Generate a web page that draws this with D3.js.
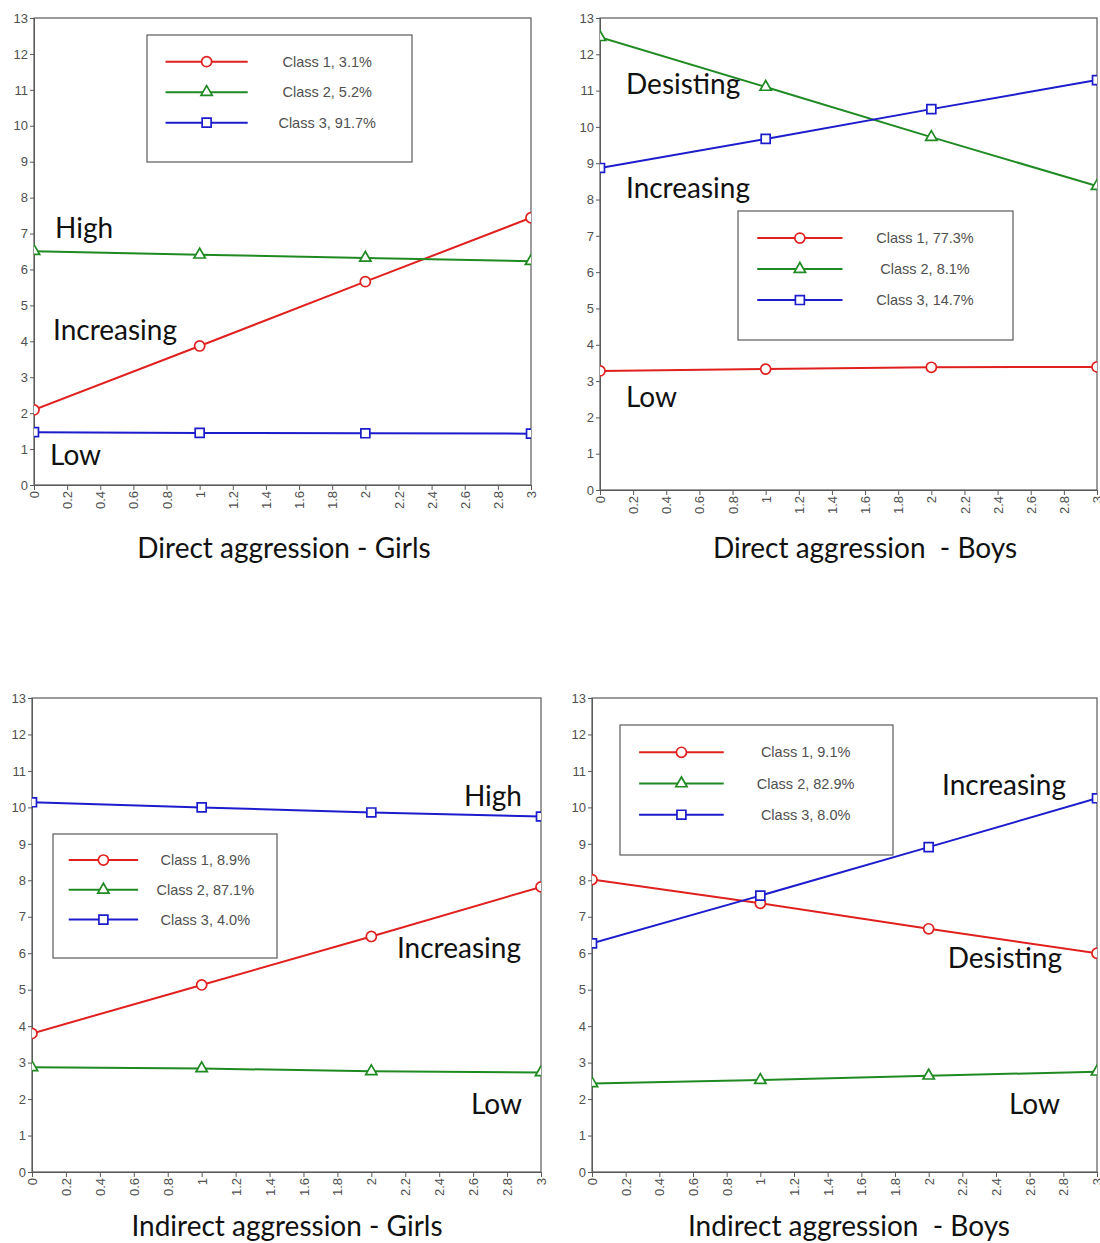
<!DOCTYPE html>
<html>
<head>
<meta charset="utf-8">
<script src="https://cdn.jsdelivr.net/npm/d3@7"></script>
<style>
  body { margin: 0; background: #fff; }
  svg { display: block; }
  .title { white-space: pre; }
</style>
</head>
<body>
<svg id="chart" width="1100" height="1243"></svg>
<script>
// Waves on the x axis
const waves = [0, 1, 2, 3];
const xTicks = d3.range(16).map(i => i / 5);
const yTicks = d3.range(14);

// Direct aggression - Girls
const dgClass1 = [2.09, 3.87, 5.66, 7.44];
const dgClass2 = [6.51, 6.41, 6.32, 6.23];
const dgClass3 = [1.47, 1.45, 1.44, 1.43];
const dgLegend = ["Class 1, 3.1%", "Class 2, 5.2%", "Class 3, 91.7%"];

// Direct aggression - Boys
const dbClass1 = [3.28, 3.33, 3.38, 3.39];
const dbClass2 = [12.47, 11.1, 9.72, 8.37];
const dbClass3 = [8.87, 9.67, 10.49, 11.29];
const dbLegend = ["Class 1, 77.3%", "Class 2, 8.1%", "Class 3, 14.7%"];

// Indirect aggression - Girls
const igClass1 = [3.8, 5.13, 6.46, 7.82];
const igClass2 = [2.87, 2.84, 2.76, 2.73];
const igClass3 = [10.14, 10.0, 9.86, 9.75];
const igLegend = ["Class 1, 8.9%", "Class 2, 87.1%", "Class 3, 4.0%"];

// Indirect aggression - Boys
const ibClass1 = [8.02, 7.37, 6.67, 6.0];
const ibClass2 = [2.43, 2.52, 2.64, 2.75];
const ibClass3 = [6.27, 7.58, 8.91, 10.25];
const ibLegend = ["Class 1, 9.1%", "Class 2, 82.9%", "Class 3, 8.0%"];

const classColors = ["#e0201e", "#1f8a22", "#1c1ccc"];
const classSymbols = [d3.symbolCircle, d3.symbolTriangle, d3.symbolSquare];

// layout of the four panels (pixels) and where the labels go (data units)
const panels = [
  {
    series: [dgClass1, dgClass2, dgClass3], legend: dgLegend,
    title: "Direct aggression - Girls", titleX: 284, titleY: 558,
    box: {left: 34, right: 531, top: 18, bottom: 485},
    legendBox: {x: 147, y: 35, w: 265, h: 127},
    notes: [
      {text: "High", x: 0.127, y: 6.88, anchor: "start"},
      {text: "Increasing", x: 0.115, y: 4.04, anchor: "start"},
      {text: "Low", x: 0.097, y: 0.56, anchor: "start"}
    ]
  },
  {
    series: [dbClass1, dbClass2, dbClass3], legend: dbLegend,
    title: "Direct aggression  - Boys", titleX: 865, titleY: 558,
    box: {left: 600, right: 1097, top: 18, bottom: 490},
    legendBox: {x: 738, y: 211, w: 275, h: 129},
    notes: [
      {text: "Desisting", x: 0.157, y: 10.91, anchor: "start"},
      {text: "Increasing", x: 0.157, y: 8.04, anchor: "start"},
      {text: "Low", x: 0.157, y: 2.29, anchor: "start"}
    ]
  },
  {
    series: [igClass1, igClass2, igClass3], legend: igLegend,
    title: "Indirect aggression - Girls", titleX: 287, titleY: 1236,
    box: {left: 32, right: 541, top: 698, bottom: 1172},
    legendBox: {x: 53, y: 834, w: 224, h: 124},
    notes: [
      {text: "High", x: 2.888, y: 10.04, anchor: "end"},
      {text: "Increasing", x: 2.882, y: 5.87, anchor: "end"},
      {text: "Low", x: 2.888, y: 1.59, anchor: "end"}
    ]
  },
  {
    series: [ibClass1, ibClass2, ibClass3], legend: ibLegend,
    title: "Indirect aggression  - Boys", titleX: 849, titleY: 1236,
    box: {left: 592, right: 1097, top: 698, bottom: 1172},
    legendBox: {x: 620, y: 725, w: 273, h: 130},
    notes: [
      {text: "Increasing", x: 2.816, y: 10.34, anchor: "end"},
      {text: "Desisting", x: 2.792, y: 5.6, anchor: "end"},
      {text: "Low", x: 2.78, y: 1.59, anchor: "end"}
    ]
  }
];

const svg = d3.select("#chart");
const tickFont = "'Liberation Sans', Arial, sans-serif";
const bigFont = "Lato, 'Open Sans', sans-serif";
const axisGray = "#5a5a5a";

function markerPath(i, size) {
  return d3.symbol().type(classSymbols[i]).size(size)();
}

panels.forEach((p, pi) => {
  const b = p.box;
  const x = d3.scaleLinear().domain([0, 3]).range([b.left, b.right]);
  const y = d3.scaleLinear().domain([0, 13]).range([b.bottom, b.top]);
  const g = svg.append("g");

  // frame
  g.append("rect")
    .attr("x", b.left).attr("y", b.top)
    .attr("width", b.right - b.left).attr("height", b.bottom - b.top)
    .attr("fill", "none").attr("stroke", axisGray).attr("stroke-width", 1.2);

  const yAxis = g.append("g")
    .attr("transform", `translate(${b.left},0)`)
    .call(d3.axisLeft(y).tickValues(yTicks).tickSize(4).tickPadding(2).tickFormat(d3.format("d")));
  yAxis.select(".domain").attr("stroke", axisGray);
  yAxis.selectAll(".tick line").attr("stroke", axisGray);
  yAxis.selectAll("text").attr("font-family", tickFont).attr("font-size", 13).attr("fill", "#505050");

  const xAxis = g.append("g")
    .attr("transform", `translate(0,${b.bottom})`)
    .call(d3.axisBottom(x).tickValues(xTicks).tickSize(5).tickFormat(d => String(d)));
  xAxis.select(".domain").attr("stroke", axisGray);
  xAxis.selectAll(".tick line").attr("stroke", axisGray);
  xAxis.selectAll("text")
    .attr("font-family", tickFont).attr("font-size", 13).attr("fill", "#505050")
    .attr("text-anchor", "end")
    .attr("transform", "rotate(-90)")
    .attr("x", -6).attr("y", 0).attr("dy", "0.35em");

  // clip marks to the plot area
  const clipId = "clip" + pi;
  svg.append("clipPath").attr("id", clipId)
    .append("rect")
    .attr("x", b.left).attr("y", b.top)
    .attr("width", b.right - b.left).attr("height", b.bottom - b.top);

  const plot = g.append("g").attr("clip-path", `url(#${clipId})`);
  const line = d3.line().x((d, i) => x(waves[i])).y(d => y(d));

  p.series.forEach((vals, ci) => {
    plot.append("path")
      .datum(vals)
      .attr("d", line)
      .attr("fill", "none")
      .attr("stroke", classColors[ci])
      .attr("stroke-width", 2);
    plot.selectAll(".m" + ci)
      .data(vals)
      .join("path")
      .attr("class", "m" + ci)
      .attr("transform", (d, i) => `translate(${x(waves[i])},${y(d)})`)
      .attr("d", markerPath(ci, ci === 1 ? 55 : 80))
      .attr("fill", "#fff")
      .attr("stroke", classColors[ci])
      .attr("stroke-width", 1.7);
  });

  // legend
  const L = p.legendBox;
  const lg = g.append("g");
  lg.append("rect")
    .attr("x", L.x).attr("y", L.y).attr("width", L.w).attr("height", L.h)
    .attr("fill", "#fff").attr("stroke", axisGray).attr("stroke-width", 1.2);
  const rowY = [0.21, 0.45, 0.69];
  p.legend.forEach((label, ci) => {
    const ry = L.y + rowY[ci] * L.h;
    const x0 = L.x + 0.07 * L.w, x1 = L.x + 0.38 * L.w;
    lg.append("line")
      .attr("x1", x0).attr("x2", x1).attr("y1", ry).attr("y2", ry)
      .attr("stroke", classColors[ci]).attr("stroke-width", 2);
    lg.append("path")
      .attr("transform", `translate(${(x0 + x1) / 2},${ry})`)
      .attr("d", markerPath(ci, ci === 1 ? 55 : 80))
      .attr("fill", "#fff").attr("stroke", classColors[ci]).attr("stroke-width", 1.7);
    lg.append("text")
      .attr("x", L.x + 0.68 * L.w).attr("y", ry).attr("dy", "0.35em")
      .attr("text-anchor", "middle")
      .attr("font-family", tickFont).attr("font-size", 14.5).attr("fill", "#505050")
      .text(label);
  });

  // class names written inside the plot
  p.notes.forEach(n => {
    g.append("text")
      .attr("x", x(n.x)).attr("y", y(n.y))
      .attr("text-anchor", n.anchor)
      .attr("font-family", bigFont).attr("font-size", 28).attr("fill", "#111")
      .text(n.text);
  });

  // panel title
  svg.append("text")
    .attr("class", "title")
    .attr("x", p.titleX).attr("y", p.titleY)
    .attr("text-anchor", "middle")
    .attr("font-family", bigFont).attr("font-size", 28).attr("fill", "#111")
    .text(p.title);
});
</script>
</body>
</html>
